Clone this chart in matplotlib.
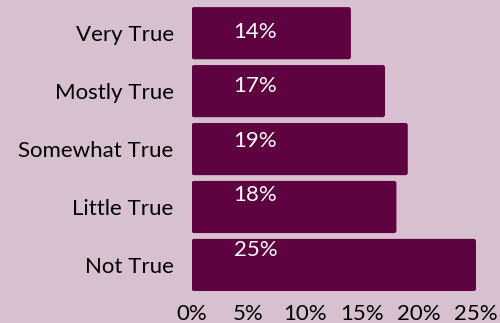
import matplotlib.pyplot as plt
from matplotlib.patches import FancyBboxPatch

categories = ["Very True", "Mostly True", "Somewhat True", "Little True", "Not True"]
values = [14, 17, 19, 18, 25]
xticks = [0, 5, 10, 15, 20, 25]

bg = "#d7c0d0"
bar_color = "#5e0240"

plt.rcParams["font.family"] = ["Lato", "DejaVu Sans"]

fig = plt.figure(figsize=(5, 3.23), dpi=100)
fig.patch.set_facecolor(bg)
ax = fig.add_axes([0.3834, 0.099, 0.5686, 0.879])
ax.set_facecolor(bg)

ypos = list(range(len(categories)))
bars = ax.barh(ypos, values, height=0.9, color=bar_color)

# swap the plain rectangles for slightly rounded ones
for b in bars:
    x, y = b.get_x(), b.get_y()
    w, h = b.get_width(), b.get_height()
    b.set_visible(False)
    ax.add_patch(FancyBboxPatch((x, y), w, h,
                                boxstyle="round,pad=0,rounding_size=0.2",
                                mutation_aspect=0.2,
                                facecolor=bar_color, edgecolor="none"))

for i, v in enumerate(values):
    ax.text(5.6, i * 0.94 - 0.02, f"{v}%", color="white", fontsize=16,
            ha="center", va="center")

ax.set_xlim(0, 25)
ax.set_ylim(4.45, -0.45)
ax.set_yticks(ypos)
ax.set_yticklabels(categories, fontsize=16)
ax.set_xticks(xticks)
ax.set_xticklabels([f"{t}%" for t in xticks], fontsize=16)
ax.tick_params(length=0)
ax.tick_params(axis="y", pad=13)
ax.tick_params(axis="x", pad=9)
for s in ax.spines.values():
    s.set_visible(False)

fig.savefig("out.png", dpi=100, facecolor=bg)
